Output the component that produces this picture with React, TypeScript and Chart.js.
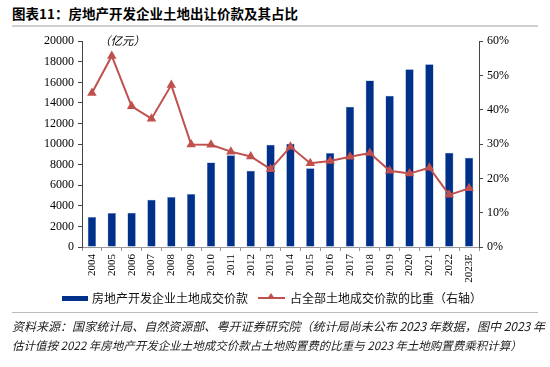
import React, { useEffect, useRef } from "react";
import { Chart, registerables } from "chart.js";

Chart.register(...registerables);

const years = ["2004","2005","2006","2007","2008","2009","2010","2011","2012","2013","2014","2015","2016","2017","2018","2019","2020","2021","2022","2023E"];
const landPrice = [2910, 3300, 3330, 4580, 4870, 5160, 8200, 8910, 7400, 9940, 10030, 7660, 9140, 13620, 16190, 14710, 17280, 17760, 9160, 8680];
const sharePct = [44.9, 55.7, 41.0, 37.4, 47.2, 29.9, 29.8, 27.8, 26.4, 22.7, 29.2, 24.4, 25.1, 26.3, 27.4, 22.2, 21.4, 23.1, 15.2, 17.1];
const leftTicksMax = 20000;
const rightTicksMax = 60;

const title = "图表11：房地产开发企业土地出让价款及其占比";
const unitLabel = "（亿元）";
const barLabel = "房地产开发企业土地成交价款";
const lineLabel = "占全部土地成交价款的比重（右轴）";
const source1 = "资料来源：国家统计局、自然资源部、粤开证券研究院（统计局尚未公布 2023 年数据，图中 2023 年";
const source2 = "估计值按 2022 年房地产开发企业土地成交价款占土地购置费的比重与 2023 年土地购置费乘积计算）";

const BAR = "#00318A";
const RED = "#C0504D";
const CJK = '"Noto Sans CJK SC", "Liberation Serif", serif';
const SERIF = '"Liberation Serif", "Times New Roman", serif';

export default function App() {
  const ref = useRef<HTMLCanvasElement | null>(null);

  useEffect(() => {
    document.body.style.margin = "0";
    const ctx = ref.current!;
    const chart = new Chart(ctx, {
      type: "bar",
      data: {
        labels: years,
        datasets: [
          {
            type: "line",
            label: lineLabel,
            data: sharePct,
            yAxisID: "y1",
            borderColor: RED,
            backgroundColor: RED,
            borderWidth: 2,
            pointStyle: "triangle",
            pointRadius: 3.5,
            pointBackgroundColor: RED,
            pointBorderColor: RED,
            tension: 0,
            order: 0,
          } as any,
          {
            type: "bar",
            label: barLabel,
            data: landPrice,
            yAxisID: "y",
            backgroundColor: BAR,
            borderColor: "#6f8fc4",
            borderWidth: 0.5,
            barPercentage: 0.42,
            categoryPercentage: 1,
            order: 1,
          } as any,
        ],
      },
      options: {
        responsive: false,
        animation: false,
        layout: { padding: { top: 9, left: 0, right: 0, bottom: 0 } },
        plugins: { legend: { display: false }, tooltip: { enabled: false } },
        scales: {
          x: {
            grid: { display: true, drawOnChartArea: false, drawTicks: true, tickLength: 4, color: "#999", offset: true },
            border: { display: true, color: "#999" },
            ticks: {
              minRotation: 90,
              maxRotation: 90,
              autoSkip: false,
              color: "#000",
              padding: 3,
              font: { family: SERIF, size: 11 },
            },
            afterFit: (s: any) => { s.height = 43; },
          },
          y: {
            position: "left",
            min: 0,
            max: leftTicksMax,
            grid: { display: true, drawOnChartArea: false, drawTicks: true, tickLength: 4, color: "#444" },
            border: { display: true, color: "#444" },
            ticks: {
              stepSize: 2000,
              color: "#000",
              padding: 4,
              font: { family: SERIF, size: 12 },
              callback: (v: any) => String(v),
            },
            afterFit: (s: any) => { s.width = 82; },
          },
          y1: {
            position: "right",
            min: 0,
            max: rightTicksMax,
            grid: { display: true, drawOnChartArea: false, drawTicks: true, tickLength: 4, color: "#444" },
            border: { display: true, color: "#444" },
            ticks: {
              stepSize: 10,
              color: "#000",
              padding: 4,
              font: { family: SERIF, size: 12 },
              callback: (v: any) => `${v}%`,
            },
            afterFit: (s: any) => { s.width = 71; },
          },
        },
      },
    });
    return () => chart.destroy();
  }, []);

  return (
    <div style={{ position: "absolute", left: 0, top: 0, width: 550, height: 367, background: "#fff", overflow: "hidden" }}>
      <div style={{ position: "absolute", left: 12, top: 4, fontFamily: CJK, fontWeight: 700, fontSize: 13.5, lineHeight: "18px", color: "#000", whiteSpace: "nowrap" }}>{title}</div>
      <div style={{ position: "absolute", left: 12, top: 25, width: 526, height: 2, background: "#cfcfcf" }} />
      <canvas ref={ref} width={550} height={260} style={{ position: "absolute", left: 0, top: 30, width: 550, height: 260 }} />
      <div style={{ position: "absolute", left: 99, top: 32, fontFamily: CJK, fontSize: 11.5, lineHeight: "16px", fontStyle: "italic", color: "#000", whiteSpace: "nowrap" }}>{unitLabel}</div>
      <div style={{ position: "absolute", left: 62, top: 296, width: 26, height: 5, background: BAR }} />
      <div style={{ position: "absolute", left: 92, top: 290, fontFamily: CJK, fontSize: 12, lineHeight: "16px", color: "#111", whiteSpace: "nowrap" }}>{barLabel}</div>
      <div style={{ position: "absolute", left: 258, top: 297, width: 27, height: 2, background: RED }} />
      <div style={{ position: "absolute", left: 267, top: 293, width: 0, height: 0, borderLeft: "4px solid transparent", borderRight: "4px solid transparent", borderBottom: "6px solid " + RED }} />
      <div style={{ position: "absolute", left: 290, top: 290, fontFamily: CJK, fontSize: 12, lineHeight: "16px", color: "#111", whiteSpace: "nowrap" }}>{lineLabel}</div>
      <div style={{ position: "absolute", left: 12, top: 312, width: 526, height: 1, background: "#bbb" }} />
      <div style={{ position: "absolute", left: 12, top: 318, width: 533, fontFamily: CJK, fontSize: 12, lineHeight: "16px", fontStyle: "italic", color: "#222", whiteSpace: "nowrap", textAlign: "justify", textAlignLast: "justify" as any }}>{source1}</div>
      <div style={{ position: "absolute", left: 12, top: 337, fontFamily: CJK, fontSize: 11.5, lineHeight: "16px", fontStyle: "italic", color: "#222", whiteSpace: "nowrap" }}>{source2}</div>
    </div>
  );
}
